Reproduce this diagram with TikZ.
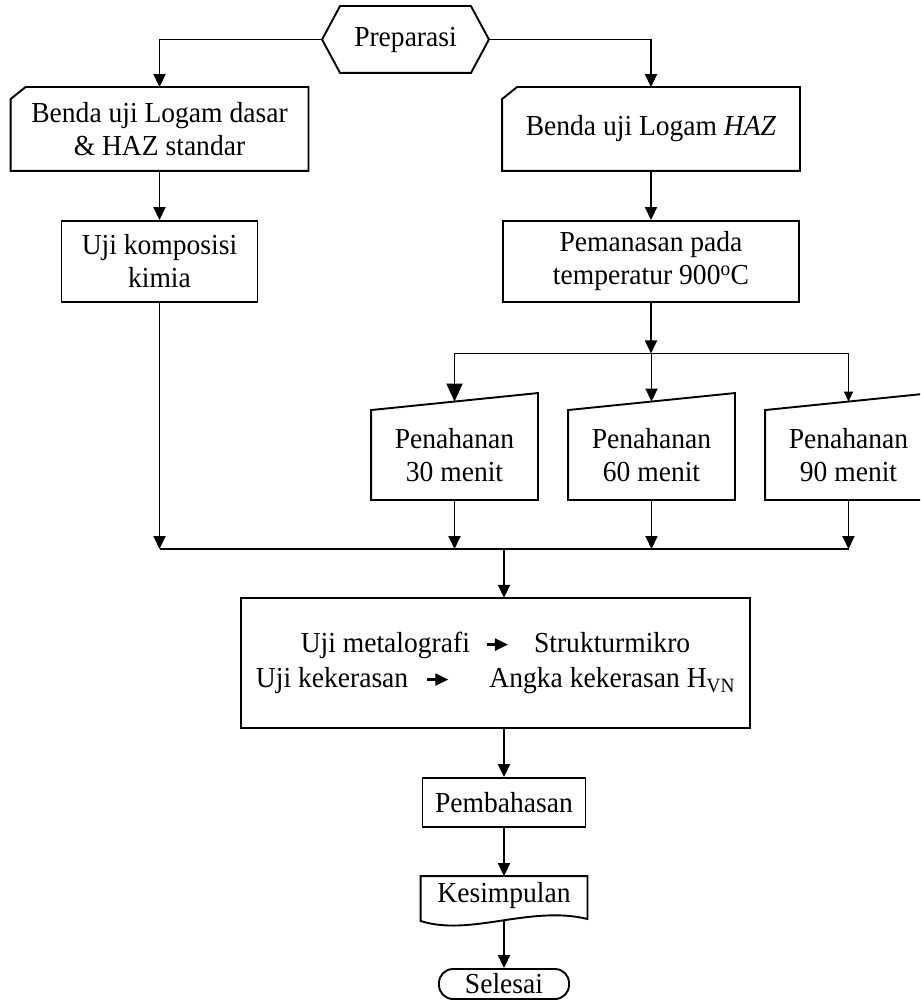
\documentclass[tikz,border=0pt]{standalone}
\usepackage{fontspec}
\setmainfont{Liberation Serif}[FakeStretch=0.95]
\usetikzlibrary{arrows.meta,calc}
\newcommand{\txtarrow}{\tikz[baseline=-8pt]\draw[line width=2.2pt,-{Triangle[length=13pt,width=12pt]}] (0pt,0pt)--(21pt,0pt);}
\begin{document}
\begin{tikzpicture}[x=1pt,y=-1pt,line width=1.9pt,
  every node/.style={font=\fontsize{29pt}{33pt}\selectfont,align=center,inner sep=0pt},
  plain/.style={draw=none},
  rbox/.style={draw},
  arr/.style={-{Triangle[length=13pt,width=12pt]}},
  arrbig/.style={-{Triangle[length=18pt,width=16pt]}},
  arrsmall/.style={-{Triangle[length=10pt,width=9pt]}}]
\useasboundingbox (0,0) rectangle (920,1000);
\clip (0,0) rectangle (920,1000);
% nodes
\node[plain,minimum width=165pt,minimum height=65pt] (P) at (405.5,39.5) {Preparasi};
\node[plain,minimum width=296pt,minimum height=82pt] (B1) at (159.5,129) {Benda uji Logam dasar\\\& HAZ standar};
\node[plain,minimum width=296pt,minimum height=82pt] (B2) at (651,129) {Benda uji Logam \textit{HAZ}};
\node[rbox,minimum width=196pt,minimum height=81pt] (U) at (159.5,261.5) {Uji komposisi\\kimia};
\node[rbox,minimum width=296pt,minimum height=81pt] (H) at (651,261.5) {Pemanasan pada\\temperatur 900\textsuperscript{o}C};
\node[plain,minimum width=165pt,minimum height=88pt] (T1) at (454.5,455) {Penahanan\\30 menit};
\node[plain,minimum width=165pt,minimum height=88pt] (T2) at (651.5,455) {Penahanan\\60 menit};
\node[plain,minimum width=165pt,minimum height=88pt] (T3) at (848.5,455) {Penahanan\\90 menit};
\node[rbox,minimum width=509pt,minimum height=130pt] (V) at (495.5,663) {Uji metalografi\hspace{16pt}\txtarrow\hspace{25pt}Strukturmikro\\[2pt]Uji kekerasan\hspace{18pt}\txtarrow\hspace{40pt}Angka kekerasan H\textsubscript{VN}};
\node[rbox,minimum width=163pt,minimum height=49pt] (PB) at (504,802.5) {Pembahasan};
\node[plain,minimum width=165pt,minimum height=38pt] (K) at (504,896) {Kesimpulan};
\node[draw,rounded corners=14pt,minimum width=130pt,minimum height=30pt] (S) at (504,984) {Selesai};
% shape outlines
\draw (P.west) -- ([xshift=18pt]P.north west) -- ([xshift=-18pt]P.north east) -- (P.east)
  -- ([xshift=-18pt]P.south east) -- ([xshift=18pt]P.south west) -- cycle;
\draw ([yshift=-12pt]B1.north west) -- ([xshift=15pt]B1.north west) -- (B1.north east)
  -- (B1.south east) -- (B1.south west) -- cycle;
\draw ([yshift=-12pt]B2.north west) -- ([xshift=15pt]B2.north west) -- (B2.north east)
  -- (B2.south east) -- (B2.south west) -- cycle;
\foreach \t in {T1,T2,T3}{
  \draw (\t.north west) -- ([yshift=17pt]\t.north east) -- (\t.south east) -- (\t.south west) -- cycle;
}
\draw (K.north west) -- (K.north east) -- ([yshift=-3pt]K.south east)
  .. controls ($(K.south)+(26,-11)$) and ($(K.south)+(-34,21)$) .. ([yshift=-5pt]K.south west) -- cycle;
% coordinates
\coordinate (hb) at ($(H.south)+(0,50.5)$);
\coordinate (T1t) at ($(T1.north west)!0.5!([yshift=17pt]T1.north east)$);
\coordinate (T2t) at ($(T2.north west)!0.5!([yshift=17pt]T2.north east)$);
\coordinate (T3t) at ($(T3.north west)!0.5!([yshift=17pt]T3.north east)$);
\coordinate (m) at (504,549);
\coordinate (kb) at ([yshift=-5pt]K.south);
% connectors
\draw[arr] (P.west) -| (B1.north);
\draw[arr] (P.east) -| (B2.north);
\draw[arr] (U.north |- B1.south) -- (U.north);
\draw[arr] (B2.south) -- (H.north);
\draw[arr] (H.south) -- (hb);
\draw (T1t |- hb) -- (T3t |- hb);
\draw[arrbig] (T1t |- hb) -- (T1t);
\draw[arr] (T2t |- hb) -- (T2t);
\draw[arrsmall] (T3t |- hb) -- (T3t);
\draw (U.south |- m) -- (T3.south |- m);
\draw[arr] (U.south) -- (U.south |- m);
\draw[arr] (T1.south) -- (T1.south |- m);
\draw[arr] (T2.south) -- (T2.south |- m);
\draw[arr] (T3.south) -- (T3.south |- m);
\draw[arr] (m) -- (m |- V.north);
\draw[arr] (PB.north |- V.south) -- (PB.north);
\draw[arr] (PB.south) -- (K.north);
\draw[arr] (kb) -- (S.north);
\end{tikzpicture}
\end{document}
